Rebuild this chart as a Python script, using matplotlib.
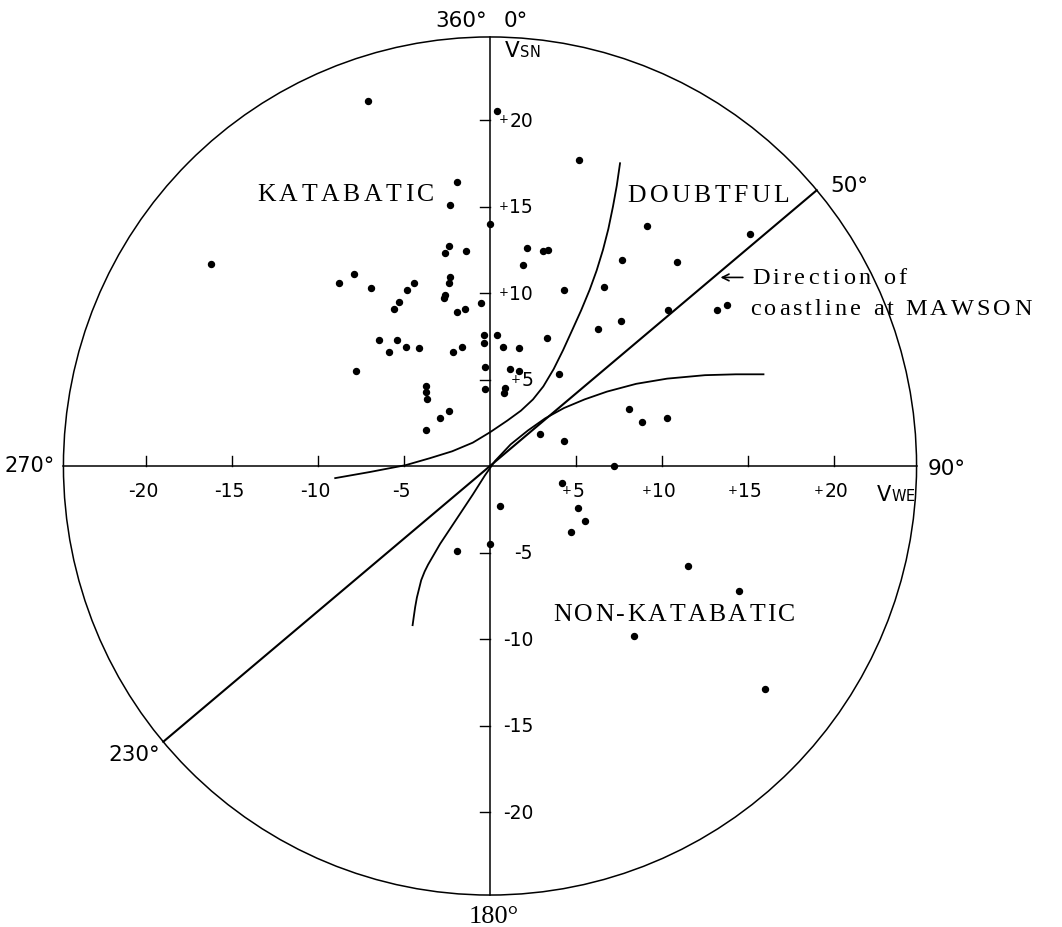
import numpy as np
import matplotlib
matplotlib.use('Agg')
import matplotlib.pyplot as plt
from matplotlib.patches import Circle
from matplotlib.font_manager import findfont, FontProperties
from matplotlib.ft2font import FT2Font

# wind vector components of the observations (m/s)
v_we = [-7.1, 0.4, 5.2, -1.9, -16.2, -2.3, 0.0, -2.4, -2.6, -1.4,
        2.15, 3.1, 3.4, 1.9, -8.8, -7.9, -6.9, -4.4, -4.8, -5.3,
        -5.6, -2.3, -2.4, -2.6, -2.7, -1.9, -1.45, -0.5, 4.3, -6.45,
        -5.4, -5.9, -4.9, -4.1, -2.15, -1.6, -0.35, -0.35, 0.4, 0.75,
        1.7, 3.3, -7.8, -0.3, 1.15, 1.7, 4.0, -3.7, -3.7, -3.65,
        -0.3, 0.9, 0.8, -2.4, -2.9, -3.7, 2.9, 4.3, 9.1, 15.1,
        7.7, 10.9, 6.6, 10.35, 13.2, 13.8, 7.6, 6.3, 8.1, 8.85,
        10.3, 7.2, 4.2, 0.6, 5.1, 5.5, 4.7, -1.9, 0.0, 11.5,
        14.5, 8.4, 16.0]
v_sn = [21.1, 20.5, 17.7, 16.4, 11.7, 15.1, 14.0, 12.7, 12.3, 12.4,
        12.6, 12.4, 12.5, 11.6, 10.6, 11.1, 10.3, 10.6, 10.2, 9.5,
        9.1, 10.9, 10.6, 9.9, 9.7, 8.9, 9.1, 9.4, 10.2, 7.3,
        7.3, 6.6, 6.9, 6.8, 6.6, 6.9, 7.6, 7.1, 7.6, 6.9,
        6.8, 7.4, 5.5, 5.7, 5.6, 5.5, 5.3, 4.6, 4.3, 3.9,
        4.45, 4.5, 4.2, 3.2, 2.8, 2.1, 1.85, 1.45, 13.9, 13.4,
        11.9, 11.8, 10.35, 9.0, 9.0, 9.3, 8.4, 7.9, 3.3, 2.55,
        2.8, 0.0, -1.0, -2.3, -2.4, -3.2, -3.8, -4.9, -4.5, -5.8,
        -7.2, -9.8, -12.9]

# katabatic / doubtful boundary
kat_x = [-9.0, -7.0, -4.9, -3.5, -2.2, -1.0, 0.0, 1.0, 1.8, 2.5, 3.1,
         3.7, 4.25, 4.8, 5.3, 5.8, 6.2, 6.57, 6.88, 7.15, 7.37, 7.56]
kat_y = [-0.7, -0.35, 0.05, 0.45, 0.85, 1.35, 1.95, 2.62, 3.2, 3.85, 4.6,
         5.6, 6.7, 7.9, 9.0, 10.2, 11.3, 12.5, 13.7, 15.0, 16.2, 17.5]

# doubtful / non-katabatic boundary
non_x = [-4.5, -4.43, -4.35, -4.25, -4.0, -3.8, -3.6, -2.9, -1.9, -1.0,
         -0.3, 0.3, 1.2, 2.2, 3.2, 4.3, 5.5, 6.8, 8.5, 10.3, 12.5, 14.3, 15.9]
non_y = [-9.2, -8.7, -8.15, -7.6, -6.6, -6.1, -5.7, -4.5, -3.0, -1.65,
         -0.55, 0.3, 1.25, 2.05, 2.75, 3.35, 3.85, 4.3, 4.75, 5.05, 5.25, 5.3, 5.3]

coast_dir = 50          # direction of coastline at Mawson, degrees
radius = 24.8
ticks = [-20, -15, -10, -5, 5, 10, 15, 20]

SANS = 'DejaVu Sans'
SERIF = 'Liberation Serif'

fig = plt.figure(figsize=(10.62, 9.27), dpi=100)
ax = fig.add_axes([0, 0, 1, 1])
ax.set_xlim(-490 / 17.2, 572 / 17.2)
ax.set_ylim(-461 / 17.3, 466 / 17.3)
ax.axis('off')
renderer = fig.canvas.get_renderer()

ax.add_patch(Circle((0, 0), radius, fill=False, lw=1.1, color='black'))
ax.plot([-radius, radius], [0, 0], color='black', lw=1.1)
ax.plot([0, 0], [-radius, radius], color='black', lw=1.1)

for t in ticks:
    ax.plot([t, t], [0, 0.58], color='black', lw=1.0)
    ax.plot([-0.58, 0], [t, t], color='black', lw=1.0)

# coastline direction
a = np.radians(coast_dir)
ax.plot([-radius * np.sin(a), radius * np.sin(a)],
        [-radius * np.cos(a), radius * np.cos(a)], color='black', lw=1.5)

ax.plot(kat_x, kat_y, color='black', lw=1.3)
ax.plot(non_x, non_y, color='black', lw=1.3)
ax.plot(v_we, v_sn, 'o', color='black', ms=4.3)


def track_text(x, y, s, size, track, family=SERIF, start=0.0):
    """Write s letter by letter with extra spacing (points)."""
    font = FT2Font(findfont(FontProperties(family=family)))
    font.set_size(size, 72)
    pos = start
    for ch in s:
        ax.annotate(ch, (x, y), xytext=(pos, 0), textcoords='offset points',
                    fontsize=size, family=family, ha='left', va='baseline')
        pos += font.load_char(ord(ch)).linearHoriAdvance / 65536 + track
    return pos


def tick_label(x, y, t, ha):
    num = ax.text(x, y, str(t) if t > 0 else '-' + str(abs(t)),
                  fontsize=13.5, family=SANS, ha=ha, va='baseline')
    if t > 0:
        bb = num.get_window_extent(renderer)
        left = ax.transData.inverted().transform((bb.x0 - 1, 0))[0]
        ax.text(left, y + 0.2, '+', fontsize=8.5, family=SANS,
                ha='right', va='baseline')


for t in ticks:
    tick_label(t + (0.12 if t > 0 else -0.15), -1.8, t, 'center')
    tick_label(2.5, t - 0.4, t, 'right')

# compass directions
ax.text(-0.17, 25.4, '360°', fontsize=15.5, family=SANS, ha='right', va='baseline')
ax.text(0.81, 25.4, '0°', fontsize=15.5, family=SANS, ha='left', va='baseline')
ax.text(-25.3, 0.0, '270°', fontsize=15, family=SANS, ha='right', va='center')
ax.text(25.45, -0.2, '90°', fontsize=15.5, family=SANS, ha='left', va='center')
ax.text(0.23, -26.4, '180°', fontsize=19, family=SERIF, ha='center', va='baseline')
ax.text(19.77, 15.84, '50°', fontsize=15.5, family=SANS, ha='left', va='baseline')
ax.text(-19.2, -16.7, '230°', fontsize=15.5, family=SANS, ha='right', va='center')

# axis names
end = track_text(0.87, 23.64, 'V', 15.5, 0, family=SANS)
track_text(0.87, 23.64, 'SN', 10.5, 0.3, family=SANS, start=end)
end = track_text(22.5, -2.02, 'V', 15, 0, family=SANS)
track_text(22.5, -2.02, 'WE', 10.5, 0.3, family=SANS, start=end)

# region names
track_text(-13.55, 15.3, 'KATABATIC', 18.5, 2.6)
track_text(8.0, 15.25, 'DOUBTFUL', 18.5, 2.5)
track_text(3.66, -8.96, 'NON-KATABATIC', 18.5, 1.8)
track_text(15.23, 10.5, 'Direction of', 17.5, 2.4)
track_text(15.1, 8.7, 'coastline at MAWSON', 17.5, 2.2)
ax.annotate('', xy=(13.4, 10.9), xytext=(14.7, 10.9),
            arrowprops=dict(arrowstyle='->', lw=1.2, color='black',
                            mutation_scale=12, shrinkA=0, shrinkB=0))

fig.savefig('out.png', dpi=100, facecolor='white')
